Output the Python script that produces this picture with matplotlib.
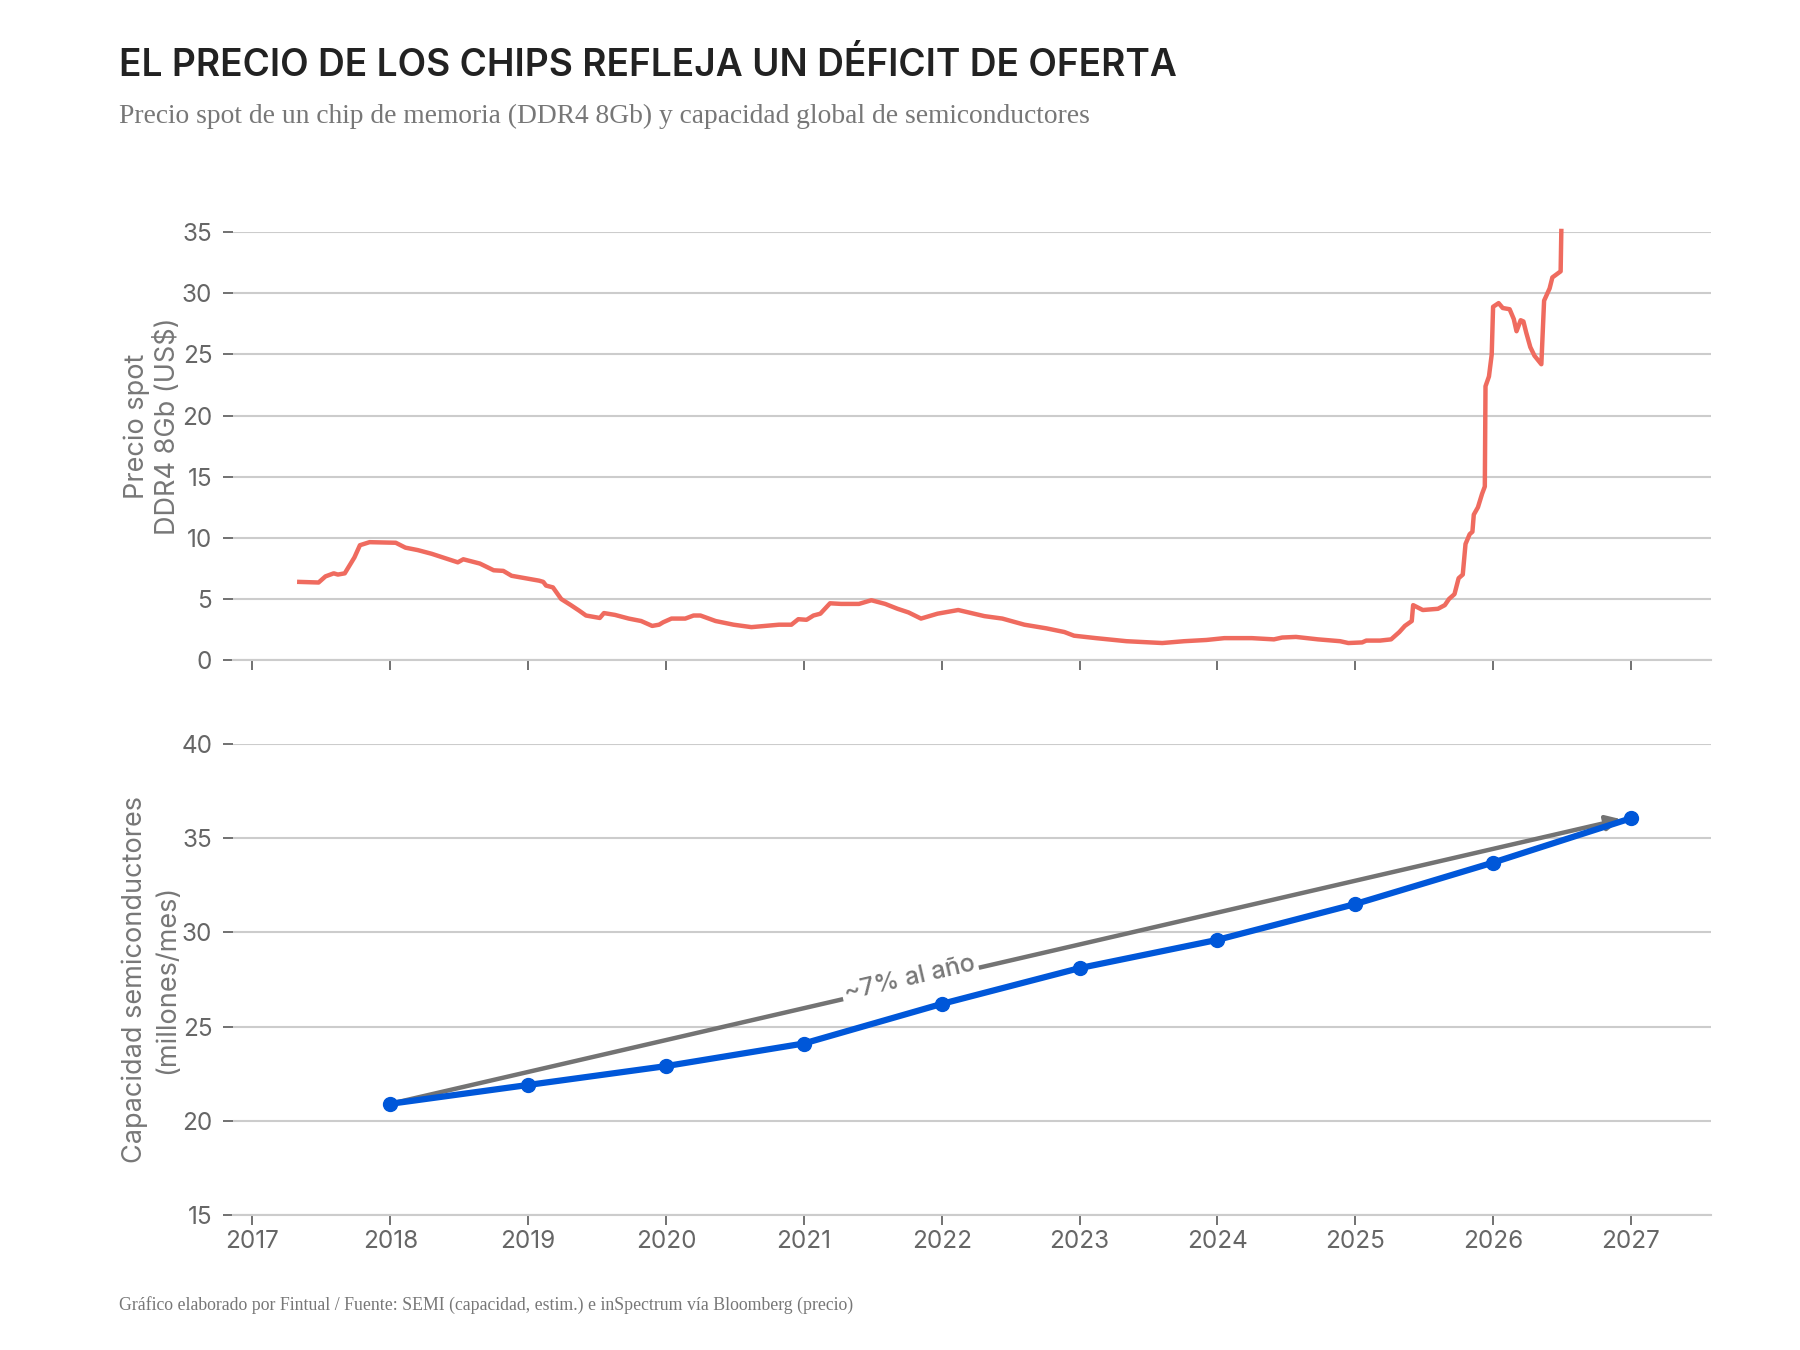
import math

import matplotlib

matplotlib.use("Agg", force=True)
import matplotlib.pyplot as plt

# Spot price DDR4 8Gb (US$)
price_dates = [
    2017.34, 2017.48, 2017.53, 2017.59, 2017.62, 2017.67, 2017.74, 2017.78, 2017.85,
    2018.04, 2018.11, 2018.20, 2018.30, 2018.49, 2018.53, 2018.65, 2018.75, 2018.82,
    2018.88, 2019.08, 2019.11, 2019.13, 2019.18, 2019.24, 2019.31, 2019.37, 2019.42,
    2019.52, 2019.55, 2019.63, 2019.73, 2019.82, 2019.90, 2019.95, 2019.98, 2020.04,
    2020.14, 2020.20, 2020.25, 2020.36, 2020.49, 2020.62, 2020.72, 2020.82, 2020.91,
    2020.96, 2021.02, 2021.07, 2021.12, 2021.19, 2021.27, 2021.40, 2021.49, 2021.59,
    2021.68, 2021.76, 2021.85, 2021.97, 2022.12, 2022.31, 2022.44, 2022.60, 2022.76,
    2022.89, 2022.96, 2023.12, 2023.34, 2023.60, 2023.76, 2023.92, 2024.05, 2024.25,
    2024.41, 2024.47, 2024.57, 2024.73, 2024.89, 2024.95, 2025.05, 2025.08, 2025.18,
    2025.26, 2025.32, 2025.36, 2025.41, 2025.42, 2025.49, 2025.60, 2025.65, 2025.68,
    2025.72, 2025.75, 2025.78, 2025.80, 2025.83, 2025.85, 2025.86, 2025.89, 2025.92,
    2025.94, 2025.945, 2025.97, 2025.99, 2026.00, 2026.04, 2026.07, 2026.12, 2026.15,
    2026.17, 2026.20, 2026.22, 2026.24, 2026.27, 2026.30, 2026.35, 2026.37, 2026.41,
    2026.43, 2026.49, 2026.495,
]
price_values = [
    6.4, 6.35, 6.85, 7.1, 7.0, 7.1, 8.4, 9.4, 9.65,
    9.6, 9.2, 9.0, 8.7, 8.0, 8.25, 7.9, 7.35, 7.3,
    6.9, 6.5, 6.4, 6.1, 5.95, 5.0, 4.5, 4.05, 3.65,
    3.45, 3.85, 3.7, 3.4, 3.2, 2.8, 2.9, 3.1, 3.4,
    3.4, 3.65, 3.65, 3.2, 2.9, 2.7, 2.8, 2.9, 2.9,
    3.35, 3.3, 3.65, 3.8, 4.65, 4.6, 4.6, 4.9, 4.6,
    4.2, 3.9, 3.4, 3.8, 4.1, 3.6, 3.4, 2.9, 2.6,
    2.3, 2.0, 1.8, 1.55, 1.4, 1.55, 1.65, 1.8, 1.8,
    1.7, 1.85, 1.9, 1.7, 1.55, 1.4, 1.45, 1.6, 1.6,
    1.7, 2.3, 2.8, 3.2, 4.5, 4.1, 4.2, 4.5, 5.0,
    5.4, 6.7, 7.0, 9.5, 10.3, 10.5, 11.9, 12.5, 13.6,
    14.2, 22.4, 23.2, 25.0, 28.9, 29.2, 28.8, 28.7, 27.9,
    26.9, 27.8, 27.7, 26.8, 25.6, 24.9, 24.2, 29.4, 30.4,
    31.3, 31.8, 35.1,
]

# Global semiconductor capacity (millions/month)
cap_years = [2018, 2019, 2020, 2021, 2022, 2023, 2024, 2025, 2026, 2027]
cap_values = [20.9, 21.9, 22.9, 24.1, 26.2, 28.1, 29.6, 31.5, 33.7, 36.05]

year_ticks = list(range(2017, 2028))
price_ticks = [0, 5, 10, 15, 20, 25, 30, 35]
cap_ticks = [15, 20, 25, 30, 35, 40]

SANS = ["Inter", "DejaVu Sans"]
SERIF = ["Liberation Serif", "DejaVu Serif"]
GRID = "#cccccc"
TICK = "#666666"
RED = "#ef6b5f"
BLUE = "#0057d9"
ARROW = "#737373"


def style_axis(ax):
    for side in ["top", "right", "left"]:
        ax.spines[side].set_visible(False)
    ax.spines["bottom"].set_color(GRID)
    ax.spines["bottom"].set_linewidth(1.5)
    ax.grid(True, axis="y", color=GRID, linewidth=1.5)
    ax.set_axisbelow(True)
    ax.tick_params(axis="y", length=7, width=1.3, color=TICK, pad=8,
                   labelsize=17.5, labelcolor=TICK)
    ax.tick_params(axis="x", length=7, width=1.3, color=TICK, pad=4,
                   labelsize=17.5, labelcolor=TICK)
    for lab in ax.get_yticklabels() + ax.get_xticklabels():
        lab.set_family(SANS)


fig = plt.figure(figsize=(18, 13.5), dpi=100)
ax_top = fig.add_axes([0.1295, 0.511, 0.821, 0.317])
ax_bot = fig.add_axes([0.1295, 0.100, 0.821, 0.349])

xlim = (2016.86, 2027.58)

# Top: price
ax_top.plot(price_dates, price_values, color=RED, linewidth=3.2, clip_on=False,
            solid_joinstyle="round")
ax_top.set_xlim(*xlim)
ax_top.set_ylim(0, 35)
ax_top.set_yticks(price_ticks)
ax_top.set_xticks(year_ticks)
ax_top.set_xticklabels([])
style_axis(ax_top)
ax_top.set_ylabel("Precio spot\nDDR4 8Gb (US$)", fontsize=19.5, color="#777777",
                  family=SANS, linespacing=1.2)
ax_top.yaxis.set_label_coords(-0.035, 0.547)

# Bottom: capacity
ax_bot.plot(cap_years, cap_values, color=BLUE, linewidth=4.5, marker="o",
            markersize=10, zorder=4, clip_on=False)
ax_bot.set_xlim(*xlim)
ax_bot.set_ylim(15, 40)
ax_bot.set_yticks(cap_ticks)
ax_bot.set_xticks(year_ticks)
ax_bot.set_xticklabels([str(y) for y in year_ticks])
style_axis(ax_bot)
ax_bot.set_ylabel("Capacidad semiconductores\n(millones/mes)", fontsize=19.5,
                  color="#777777", family=SANS, linespacing=1.3)
ax_bot.yaxis.set_label_coords(-0.036, 0.5)

# Trend arrow from first to last point
start = (cap_years[0], cap_values[0])
end = (2026.93, cap_values[-1] - 0.05)
ax_bot.annotate("", xy=end, xytext=start,
                arrowprops=dict(arrowstyle="-|>", color=ARROW, lw=3.2,
                                mutation_scale=22, shrinkA=0, shrinkB=0),
                zorder=3)
p0 = ax_bot.transData.transform(start)
p1 = ax_bot.transData.transform(end)
angle = math.degrees(math.atan2(p1[1] - p0[1], p1[0] - p0[0]))
tx = 2021.77
ty = start[1] + (end[1] - start[1]) * (tx - start[0]) / (end[0] - start[0]) + 0.25
ax_bot.text(tx, ty, "~7% al año", rotation=angle, rotation_mode="anchor",
            ha="center", va="center", fontsize=18, color="#777777",
            family=SANS, fontweight="medium", zorder=3.5,
            bbox=dict(facecolor="white", edgecolor="none", pad=2))

# Titles
fig.text(0.066, 0.9435, "EL PRECIO DE LOS CHIPS REFLEJA UN DÉFICIT DE OFERTA",
         fontsize=26.7, fontweight="semibold", color="#222222", family=SANS,
         va="baseline")
fig.text(0.066, 0.909,
         "Precio spot de un chip de memoria (DDR4 8Gb) y capacidad global de semiconductores",
         fontsize=19.8, color="#777777", family=SERIF, va="baseline")
fig.text(0.066, 0.030,
         "Gráfico elaborado por Fintual / Fuente: SEMI (capacidad, estim.) e inSpectrum vía Bloomberg (precio)",
         fontsize=12.8, color="#777777", family=SERIF, va="baseline")

fig.savefig("out.png", dpi=100, facecolor="white")
